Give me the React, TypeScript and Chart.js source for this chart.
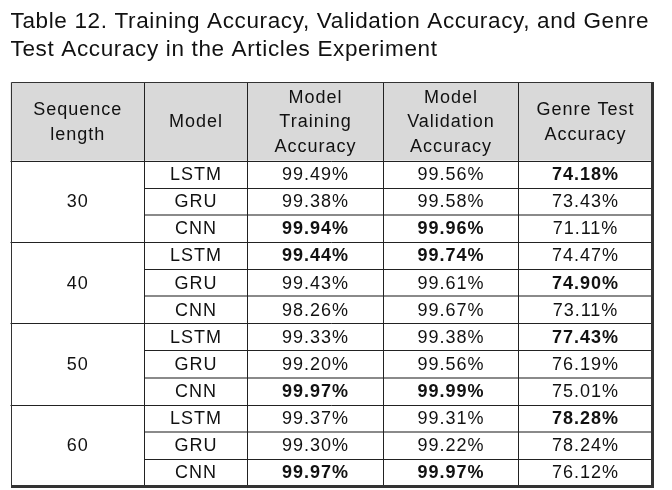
import React, { useEffect, useRef } from "react";
import { Chart, registerables } from "chart.js";

Chart.register(...registerables);

// ---- Data ----
const titleLines = [
  "Table 12. Training Accuracy, Validation Accuracy, and Genre",
  "Test Accuracy in the Articles Experiment",
];
const headerLines: string[][] = [
  ["Sequence", "length"],
  ["Model"],
  ["Model", "Training", "Accuracy"],
  ["Model", "Validation", "Accuracy"],
  ["Genre Test", "Accuracy"],
];
const sequenceLengths = [30, 40, 50, 60];
const models = ["LSTM", "GRU", "CNN"];
const trainingAcc = [99.49, 99.38, 99.94, 99.44, 99.43, 98.26, 99.33, 99.2, 99.97, 99.37, 99.3, 99.97];
const validationAcc = [99.56, 99.58, 99.96, 99.74, 99.61, 99.67, 99.38, 99.56, 99.99, 99.31, 99.22, 99.97];
const genreAcc = [74.18, 73.43, 71.11, 74.47, 74.9, 73.11, 77.43, 76.19, 75.01, 78.28, 78.24, 76.12];

// ---- Layout / style constants ----
const colEdges = [0, 133.5, 236.5, 372.5, 507.5, 641.5]; // x-scale units
const headerUnits = 2.9; // header height in row units
const grayLineAfterRow = [2, 5, 8, 10];
const FONT = '"Liberation Sans", Arial, sans-serif';

const valueCols = [trainingAcc, validationAcc, genreAcc];

function isBold(col: number[], i: number) {
  const g = Math.floor(i / models.length) * models.length;
  const grp = col.slice(g, g + models.length);
  return col[i] === Math.max(...grp);
}

const tablePlugin = {
  id: "tablePlugin",
  afterDraw(chart: any) {
    const ctx = chart.ctx as CanvasRenderingContext2D;
    const xs = chart.scales.x;
    const ys = chart.scales.y;
    const X = (v: number) => xs.getPixelForValue(v);
    const Y = (v: number) => ys.getPixelForValue(v);
    const nRows = sequenceLengths.length * models.length;
    const left = X(colEdges[0]);
    const right = X(colEdges[colEdges.length - 1]);
    const top = Y(-headerUnits);
    const bottom = Y(nRows);
    const r = (v: number) => Math.round(v) + 0.5;

    ctx.save();
    // Title
    ctx.fillStyle = "#111";
    ctx.textAlign = "left";
    ctx.textBaseline = "alphabetic";
    ctx.font = `22.5px ${FONT}`;
    (ctx as any).letterSpacing = "0px";
    const w0 = ctx.measureText(titleLines[0]).width;
    const spacing = (638 - w0) / (titleLines[0].length - 1);
    (ctx as any).letterSpacing = `${spacing}px`;
    titleLines.forEach((t, i) => ctx.fillText(t, left, 28 + i * 28));

    // Header background
    ctx.fillStyle = "#d9d9d9";
    ctx.fillRect(left, top, right - left, Y(0) - top);

    // Header text
    ctx.fillStyle = "#111";
    ctx.textAlign = "center";
    ctx.textBaseline = "middle";
    ctx.font = `18px ${FONT}`;
    (ctx as any).letterSpacing = "1px";
    const hMid = (top + Y(0)) / 2;
    headerLines.forEach((lines, c) => {
      const cx = (X(colEdges[c]) + X(colEdges[c + 1])) / 2;
      lines.forEach((ln, k) => {
        const y = hMid + (k - (lines.length - 1) / 2) * 24.5 + 1;
        ctx.fillText(ln, cx + 0.5, y);
      });
    });

    // Body text
    sequenceLengths.forEach((s, g) => {
      const cy = (Y(g * models.length) + Y((g + 1) * models.length)) / 2 + 1;
      ctx.font = `18px ${FONT}`;
      ctx.fillText(String(s), (X(colEdges[0]) + X(colEdges[1])) / 2 + 0.5, cy);
    });
    for (let i = 0; i < nRows; i++) {
      const cy = (Y(i) + Y(i + 1)) / 2 + 1;
      ctx.font = `18px ${FONT}`;
      ctx.fillText(models[i % models.length], (X(colEdges[1]) + X(colEdges[2])) / 2 + 0.5, cy);
      valueCols.forEach((col, c) => {
        ctx.font = `${isBold(col, i) ? "bold " : ""}18px ${FONT}`;
        const cx = (X(colEdges[c + 2]) + X(colEdges[c + 3])) / 2 + 0.5;
        ctx.fillText(col[i].toFixed(2) + "%", cx, cy);
      });
    }

    // Horizontal lines
    ctx.lineWidth = 1;
    for (let i = 0; i < nRows; i++) {
      const y = r(Y(i));
      const groupLine = i % models.length === 0;
      if (groupLine) {
        ctx.strokeStyle = "#222";
        ctx.lineWidth = 1;
        ctx.beginPath();
        ctx.moveTo(left, y);
        ctx.lineTo(right, y);
        ctx.stroke();
      } else {
        const gray = grayLineAfterRow.includes(i);
        ctx.strokeStyle = gray ? "#8a8a8a" : "#222";
        ctx.lineWidth = gray ? 2 : 1;
        ctx.beginPath();
        ctx.moveTo(X(colEdges[1]), gray ? Math.round(Y(i)) : y);
        ctx.lineTo(right, gray ? Math.round(Y(i)) : y);
        ctx.stroke();
      }
    }
    // Vertical lines
    ctx.strokeStyle = "#222";
    ctx.lineWidth = 1;
    for (let c = 1; c < colEdges.length - 1; c++) {
      const x = r(X(colEdges[c]));
      ctx.beginPath();
      ctx.moveTo(x, top);
      ctx.lineTo(x, bottom);
      ctx.stroke();
    }
    // Outer border
    ctx.strokeStyle = "#333";
    ctx.lineWidth = 1;
    ctx.beginPath();
    ctx.moveTo(r(left), r(bottom));
    ctx.lineTo(r(left), r(top));
    ctx.lineTo(r(right), r(top));
    ctx.stroke();
    ctx.strokeStyle = "#333";
    ctx.lineWidth = 3;
    ctx.beginPath();
    ctx.moveTo(Math.round(right) + 0.5, Math.round(top));
    ctx.lineTo(Math.round(right) + 0.5, Math.round(bottom) + 0.5);
    ctx.lineTo(Math.round(left), Math.round(bottom) + 0.5);
    ctx.stroke();
    ctx.restore();
  },
};

export default function App() {
  const ref = useRef<HTMLCanvasElement | null>(null);
  useEffect(() => {
    if (!ref.current) return;
    const points: { x: number; y: number }[] = [];
    valueCols.forEach((col, c) =>
      col.forEach((_, i) =>
        points.push({ x: (colEdges[c + 2] + colEdges[c + 3]) / 2, y: i + 0.5 })
      )
    );
    const chart = new Chart(ref.current, {
      type: "scatter",
      data: {
        datasets: [
          {
            label: "cells",
            data: points,
            pointRadius: 0,
            pointHoverRadius: 0,
            showLine: false,
          },
        ],
      },
      options: {
        responsive: false,
        animation: false,
        events: [],
        layout: { padding: { left: 10.5, right: 20, top: 82, bottom: 4 } },
        plugins: {
          legend: { display: false },
          title: { display: false },
          tooltip: { enabled: false },
        },
        scales: {
          x: { type: "linear", display: false, min: colEdges[0], max: colEdges[colEdges.length - 1] },
          y: {
            type: "linear",
            display: false,
            reverse: true,
            min: -headerUnits,
            max: sequenceLengths.length * models.length,
          },
        },
      },
      plugins: [tablePlugin],
    });
    return () => chart.destroy();
  }, []);
  return (
    <div style={{ position: "absolute", left: 0, top: 0, width: 672, height: 490, background: "#fff" }}>
      <canvas ref={ref} width={672} height={490} style={{ display: "block", width: 672, height: 490 }} />
    </div>
  );
}
